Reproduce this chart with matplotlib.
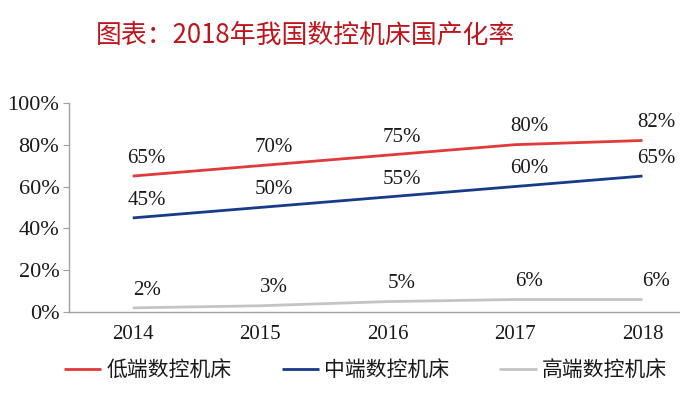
import matplotlib
matplotlib.use("Agg")
import matplotlib.pyplot as plt
from matplotlib.ticker import FuncFormatter

plt.rcParams['font.family'] = ['Liberation Serif', 'Noto Sans CJK SC']

# data
years = ['2014', '2015', '2016', '2017', '2018']
low_end = [65, 70, 75, 80, 82]
mid_end = [45, 50, 55, 60, 65]
high_end = [2, 3, 5, 6, 6]
series_names = ['低端数控机床', '中端数控机床', '高端数控机床']
series_colors = ['#E03A3A', '#173A8A', '#C4C4C4']
title = '图表：2018年我国数控机床国产化率'

fig = plt.figure(figsize=(6.8, 3.94), dpi=100)
ax = fig.add_axes([0.1015, 0.208, 0.937, 0.531])

x = list(range(len(years)))
for vals, name, col in zip([low_end, mid_end, high_end], series_names, series_colors):
    ax.plot(x, vals, color=col, lw=2.0, label=name, solid_capstyle='butt')
    for xi, v in zip(x, vals):
        ax.annotate(f'{v}%', (xi, v), xytext=(10, 6), textcoords='offset points',
                    ha='center', va='bottom', fontsize=15, color='#1a1a1a')

ax.set_xlim(-0.5, len(years) - 0.5)
ax.set_ylim(0, 100)
ax.set_yticks(range(0, 101, 20))
ax.yaxis.set_major_formatter(FuncFormatter(lambda v, p: f'{int(v)}%'))
ax.set_xticks(x)
ax.set_xticklabels(years)
ax.tick_params(axis='y', length=4, color='#A0A0A0', labelsize=16, pad=3, labelcolor='#1a1a1a')
ax.tick_params(axis='x', length=0, labelsize=15, pad=9, labelcolor='#1a1a1a')
for side in ['top', 'right']:
    ax.spines[side].set_visible(False)
for side in ['left', 'bottom']:
    ax.spines[side].set_color('#A0A0A0')
    ax.spines[side].set_linewidth(1.0)

fig.text(0.141, 0.91, title, color='#C0141C', fontsize=18.6, ha='left', va='center',
         family=['Noto Sans CJK SC'])

leg = fig.legend(loc='center', bbox_to_anchor=(0.5375, 0.06), ncol=3, frameon=False,
                 prop={'family': 'Noto Sans CJK SC', 'size': 15}, handlelength=1.8,
                 columnspacing=2.4, handletextpad=0.25)
for t in leg.get_texts():
    t.set_color('#1a1a1a')

fig.savefig('out.png', dpi=100)
